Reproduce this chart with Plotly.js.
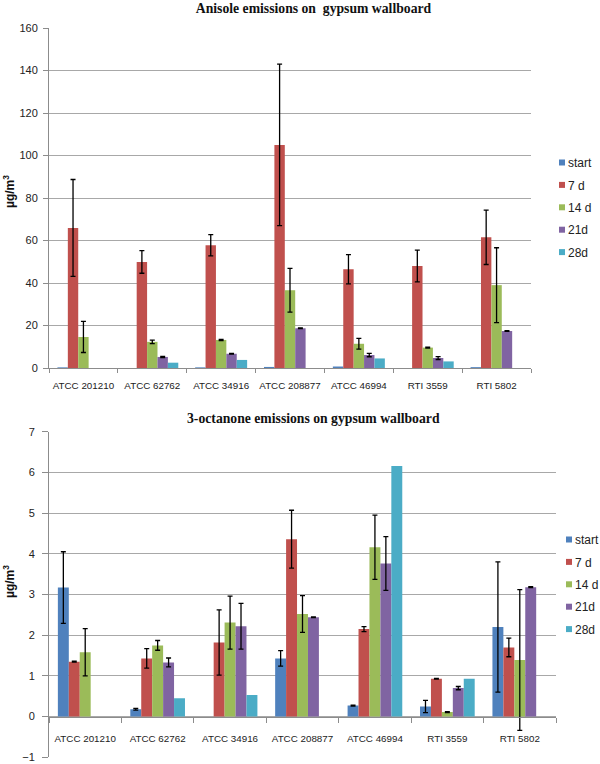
<!DOCTYPE html>
<html>
<head>
<meta charset="utf-8">
<script src="https://cdn.plot.ly/plotly-3.0.1.min.js"></script>
<style>html,body{margin:0;padding:0;background:#fff;}#chart{width:600px;height:764px;}</style>
</head>
<body>
<div id="chart"></div>
<script>
// ---- data ----
const categories = ['ATCC 201210', 'ATCC 62762', 'ATCC 34916', 'ATCC 208877', 'ATCC 46994', 'RTI 3559', 'RTI 5802'];
const seriesNames = ['start', '7 d', '14 d', '21d', '28d'];
const seriesColors = ['#4F81BD', '#C0504D', '#9BBB59', '#8064A2', '#4BACC6'];

// Anisole emissions (µg/m3)
const anisoleStart = [0.3, 0, 0.3, 0.5, 0.7, 0, 0.4];
const anisole7d    = [65.9, 49.9, 57.8, 105.0, 46.5, 48.0, 61.5];
const anisole14d   = [14.6, 12.3, 13.2, 36.6, 11.4, 9.6, 39.0];
const anisole21d   = [0, 5.2, 6.7, 18.7, 6.1, 4.7, 17.4];
const anisole28d   = [0, 2.5, 3.8, 0, 4.5, 3.1, 0];
const anisoleErrStart = [null, null, null, null, null, null, null];
const anisoleErr7d    = [22.8, 5.3, 5.0, 38.0, 6.9, 7.5, 12.8];
const anisoleErr14d   = [7.3, 0.8, 0.3, 10.3, 2.5, 0.2, 17.6];
const anisoleErr21d   = [null, 0.3, 0.2, 0.2, 0.8, 0.7, 0.2];
const anisoleErr28d   = [null, null, null, null, null, null, null];

// 3-octanone emissions (µg/m3)
const octStart = [3.17, 0.18, 0, 1.43, 0.27, 0.25, 2.20];
const oct7d    = [1.35, 1.43, 1.82, 4.36, 2.15, 0.93, 1.70];
const oct14d   = [1.58, 1.75, 2.31, 2.52, 4.16, 0.11, 1.39];
const oct21d   = [0, 1.33, 2.22, 2.44, 3.76, 0.70, 3.18];
const oct28d   = [0, 0.45, 0.53, 0, 6.16, 0.93, 0];
const octErrStart = [0.88, 0.02, null, 0.19, 0.01, 0.15, 1.60];
const octErr7d    = [0.01, 0.24, 0.80, 0.71, 0.06, 0.01, 0.23];
const octErr14d   = [0.58, 0.12, 0.65, 0.45, 0.79, 0.01, 1.73];
const octErr21d   = [null, 0.11, 0.56, 0.01, 0.66, 0.04, 0.01];
const octErr28d   = [null, null, null, null, null, null, null];

const titleTop = 'Anisole emissions on  gypsum wallboard';
const titleBottom = '3-octanone emissions on gypsum wallboard';
const unitLabel = 'µg/m<sup>3</sup>';

// ---- traces ----
const anisoleVals = [anisoleStart, anisole7d, anisole14d, anisole21d, anisole28d];
const anisoleErrs = [anisoleErrStart, anisoleErr7d, anisoleErr14d, anisoleErr21d, anisoleErr28d];
const octVals = [octStart, oct7d, oct14d, oct21d, oct28d];
const octErrs = [octErrStart, octErr7d, octErr14d, octErr21d, octErr28d];

const fixErr = arr => arr.map(v => (v === null ? NaN : v));

const traces = [];
seriesNames.forEach((name, i) => {
  traces.push({
    type: 'bar', name: name, x: categories, y: anisoleVals[i],
    xaxis: 'x', yaxis: 'y', legend: 'legend', legendgroup: 'a' + i,
    marker: { color: seriesColors[i] },
    error_y: { type: 'data', array: fixErr(anisoleErrs[i]), symmetric: true, color: '#000', thickness: 1.3, width: 2.5 }
  });
});
seriesNames.forEach((name, i) => {
  traces.push({
    type: 'bar', name: name, x: categories, y: octVals[i],
    xaxis: 'x2', yaxis: 'y2', legend: 'legend2', legendgroup: 'b' + i,
    marker: { color: seriesColors[i] },
    error_y: { type: 'data', array: fixErr(octErrs[i]), symmetric: true, color: '#000', thickness: 1.3, width: 2.5 }
  });
});

// ---- layout ----
const W = 600, H = 764;
const py = px => 1 - px / H;
const gridColor = '#a8a8a8';
const lineColor = '#8c8c8c';
const tickFont = { family: 'Liberation Sans, Arial, sans-serif', size: 11, color: '#222' };
const xTickFont = { family: 'Liberation Sans, Arial, sans-serif', size: 9.8, color: '#222' };
const legFont = { family: 'Liberation Sans, Arial, sans-serif', size: 12, color: '#222' };
const titleFont = { family: 'Liberation Serif, Times New Roman, serif', size: 13.7, weight: 'bold', color: '#111' };

const y2dom = [py(757.3), py(431.7)];
const x2pos = y2dom[0] + (y2dom[1] - y2dom[0]) / 8;

const layout = {
  width: W, height: H,
  margin: { l: 0, r: 0, t: 0, b: 0, autoexpand: false },
  paper_bgcolor: '#fff', plot_bgcolor: 'rgba(0,0,0,0)',
  barmode: 'group', bargap: 0.245, bargroupgap: 0,
  showlegend: true,
  title: { text: titleTop, font: titleFont, x: 313.5 / W, xanchor: 'center', xref: 'paper', y: py(8), yanchor: 'middle', yref: 'paper' },
  xaxis: {
    domain: [49 / W, 531 / W], anchor: 'y', type: 'category',
    showline: true, linecolor: lineColor, linewidth: 1,
    ticks: 'outside', tickson: 'boundaries', ticklen: 4, tickcolor: lineColor, tickangle: 0,
    showgrid: false, tickfont: xTickFont, ticklabelstandoff: 8, fixedrange: true
  },
  yaxis: {
    domain: [py(368), py(28)], anchor: 'x', range: [0, 160], dtick: 20,
    showgrid: true, gridcolor: gridColor, gridwidth: 1,
    showline: true, linecolor: lineColor, ticks: 'outside', ticklen: 5, tickcolor: lineColor,
    zeroline: false, tickfont: tickFont, ticklabelstandoff: 3, fixedrange: true
  },
  xaxis2: {
    domain: [49 / W, 556 / W], anchor: 'free', position: x2pos, type: 'category',
    showline: true, linecolor: lineColor, linewidth: 1,
    ticks: 'outside', tickson: 'boundaries', ticklen: 5, tickcolor: lineColor, tickangle: 0,
    showgrid: false, tickfont: xTickFont, ticklabelstandoff: 13, fixedrange: true
  },
  yaxis2: {
    domain: y2dom, anchor: 'x2', range: [-1, 7], dtick: 1,
    showgrid: true, gridcolor: gridColor, gridwidth: 1,
    showline: true, linecolor: lineColor, ticks: 'outside', ticklen: 6, tickcolor: lineColor,
    zeroline: false, tickfont: tickFont, ticklabelstandoff: 5, fixedrange: true
  },
  legend: {
    x: 528 / W, xanchor: 'left', y: py(148), yanchor: 'top',
    font: legFont, bgcolor: 'rgba(0,0,0,0)', borderwidth: 0,
    traceorder: 'grouped', tracegroupgap: 3.4
  },
  legend2: {
    x: 535 / W, xanchor: 'left', y: py(525), yanchor: 'top',
    font: legFont, bgcolor: 'rgba(0,0,0,0)', borderwidth: 0,
    traceorder: 'grouped', tracegroupgap: 3.4
  },
  annotations: [
    { text: titleBottom, font: titleFont, xref: 'paper', yref: 'paper', x: 313.5 / W, y: py(418), xanchor: 'center', yanchor: 'middle', showarrow: false },
    { text: unitLabel, font: { family: 'Liberation Sans, Arial, sans-serif', size: 12, weight: 'bold', color: '#111' }, textangle: -90,
      xref: 'paper', yref: 'paper', x: 9 / W, y: py(192), xanchor: 'center', yanchor: 'middle', showarrow: false },
    { text: unitLabel, font: { family: 'Liberation Sans, Arial, sans-serif', size: 12, weight: 'bold', color: '#111' }, textangle: -90,
      xref: 'paper', yref: 'paper', x: 9 / W, y: py(582), xanchor: 'center', yanchor: 'middle', showarrow: false }
  ]
};

// make legend swatches small squares close to the text, as in the original
function shrinkSwatches() {
  document.querySelectorAll('.legendpoints').forEach(lp => {
    const item = lp.closest('.traces') || lp.parentNode;
    const t = item ? item.querySelector('.legendtext') : null;
    let tx = 40;
    if (t) {
      const a = parseFloat(t.getAttribute('x'));
      if (isFinite(a)) tx = a;
    }
    const d = 'M' + (tx - 3) + ',3H' + (tx - 9) + 'V-3H' + (tx - 3) + 'Z';
    lp.querySelectorAll('path').forEach(p => {
      if (p.getAttribute('d') !== d) {
        p.removeAttribute('transform');
        p.setAttribute('d', d);
      }
    });
  });
}

const gd = document.getElementById('chart');
Plotly.newPlot(gd, traces, layout, { displayModeBar: false, staticPlot: true }).then(() => {
  shrinkSwatches();
  gd.on('plotly_afterplot', shrinkSwatches);
  const mo = new MutationObserver(() => shrinkSwatches());
  mo.observe(gd, { childList: true, subtree: true });
  [0, 50, 200, 500].forEach(ms => setTimeout(shrinkSwatches, ms));
});
</script>
</body>
</html>
